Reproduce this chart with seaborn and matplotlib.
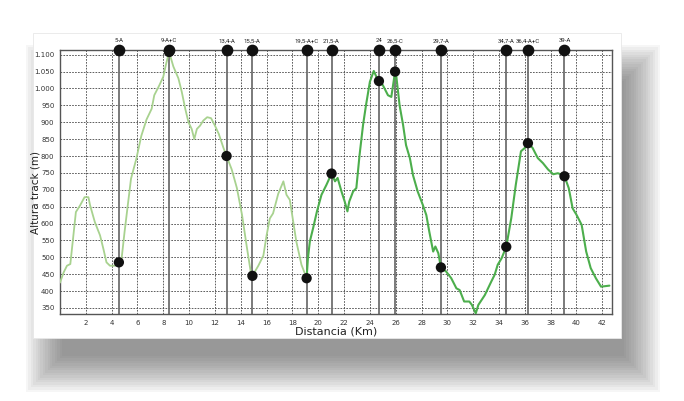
import matplotlib
matplotlib.use("Agg")
import matplotlib.pyplot as plt
import matplotlib.ticker as mticker
from matplotlib.patches import Rectangle
import pandas as pd
import seaborn as sns

# perfil de altura (km, m) - tramo claro y tramo oscuro
km_claro = [0.0, 0.28, 0.54, 0.8, 1.23, 1.56, 1.9, 2.2, 2.33, 2.7, 3.1, 3.36, 3.6, 3.87,
            4.26, 4.56, 4.77, 5.0, 5.3, 5.5, 5.9, 6.3, 6.7, 7.1, 7.3, 7.7, 8.0, 8.2, 8.45,
            8.78, 9.17, 9.43, 9.7, 9.95, 10.2, 10.4, 10.6, 10.85, 11.1, 11.4, 11.7, 12.0,
            12.3, 12.65, 12.9, 13.3, 13.7, 14.1, 14.45, 14.8, 14.9, 15.36, 15.75, 16.0,
            16.25, 16.5, 16.64, 16.9, 17.3, 17.54, 17.8, 18.06, 18.3, 18.7, 19.1]
alt_claro = [425, 455, 475, 480, 634, 654, 678, 678, 654, 604, 565, 525, 485, 475,
             475, 485, 496, 575, 670, 733, 790, 860, 908, 940, 980, 1010, 1035, 1070, 1108,
             1065, 1030, 990, 940, 900, 880, 850, 880, 890, 905, 915, 912, 890,
             865, 825, 800, 760, 705, 625, 535, 450, 445, 475, 505, 565,
             615, 630, 650, 688, 725, 685, 670, 606, 547, 478, 438]

km_oscuro = [19.1, 19.2, 19.35, 19.6, 19.9, 20.25, 20.64, 21.03, 21.3, 21.5, 21.8, 22.05,
             22.26, 22.4, 22.7, 22.95, 23.2, 23.47, 23.7, 24.0, 24.3, 24.5, 24.7, 25.0,
             25.4, 25.66, 25.95, 26.05, 26.3, 26.57, 26.8, 27.1, 27.34, 27.7, 28.1, 28.37,
             28.6, 28.9, 29.07, 29.3, 29.5, 29.9, 30.3, 30.7, 30.95, 31.3, 31.7, 31.9, 32.2,
             32.4, 32.9, 33.4, 33.66, 33.9, 34.2, 34.56, 34.95, 35.3, 35.7, 36.0, 36.24,
             36.6, 37.0, 37.4, 37.8, 38.2, 38.56, 38.9, 39.07, 39.4, 39.7, 40.0, 40.4,
             40.75, 41.1, 41.5, 41.9, 42.55]
alt_oscuro = [438, 497, 547, 586, 636, 685, 715, 748, 725, 735, 695, 665,
              636, 665, 695, 705, 803, 892, 951, 1020, 1052, 1035, 1022, 1010,
              980, 975, 1050, 1035, 950, 892, 832, 793, 743, 695, 655, 625,
              576, 517, 532, 512, 470, 458, 438, 408, 403, 369, 369, 359, 334,
              359, 388, 428, 448, 478, 497, 531, 616, 715, 814, 824, 838,
              824, 794, 779, 760, 746, 749, 744, 740, 705, 645, 626, 596,
              517, 468, 438, 413, 416]

# puntos de control
pc_nombres = ["5-A", "9-A+C", "13,4-A", "15,5-A", "19,5-A+C", "21,5-A", "24", "26,5-C",
              "29,7-A", "34,7-A", "36,4-A+C", "39-A"]
pc_km = [4.56, 8.45, 12.9, 14.9, 19.1, 21.03, 24.7, 25.95, 29.5, 34.56, 36.24, 39.07]
pc_alt = [485, 1108, 800, 445, 438, 748, 1022, 1050, 470, 531, 838, 740]

x_ticks = list(range(2, 43, 2))
y_ticks = list(range(350, 1101, 50))

VERDE_CLARO = "#a8d28f"
VERDE_OSCURO = "#4cae4c"
Y_MIN, Y_MAX = 332, 1114
W, H = 684, 401

sns.set_style("white")
plt.rcParams["font.family"] = ["DejaVu Sans"]

fig = plt.figure(figsize=(W / 100, H / 100), dpi=100)


def px_rect(xa, ya, xb, yb, **kw):
    # rectángulo en píxeles (origen arriba a la izquierda)
    return Rectangle((xa / W, 1 - yb / H), (xb - xa) / W, (yb - ya) / H,
                     transform=fig.transFigure, **kw)


# sombra difusa abajo y a la derecha
for k in range(16):
    d = k * 2.4
    fig.add_artist(px_rect(26 + d, 45 + d, 660 - d, 392 - d, color="#4a4a4a",
                           alpha=0.047, lw=0, zorder=0))
# tarjeta blanca
fig.add_artist(px_rect(33, 33, 621, 338, facecolor="white", edgecolor="#e8e8e8",
                       lw=0.6, zorder=1))

ax = fig.add_axes([60 / W, 1 - 314 / H, 552 / W, 264 / H])
ax.set_facecolor("none")
ax.set_zorder(2)

df_claro = pd.DataFrame({"km": km_claro, "alt": alt_claro})
df_oscuro = pd.DataFrame({"km": km_oscuro, "alt": alt_oscuro})
df_pc = pd.DataFrame({"km": pc_km, "alt": pc_alt, "nombre": pc_nombres})

for xv in pc_km:
    ax.axvline(xv, color="#707070", lw=1.3, zorder=2)

sns.lineplot(data=df_claro, x="km", y="alt", color=VERDE_CLARO, lw=1.3, ax=ax,
             sort=False, estimator=None, zorder=3)
sns.lineplot(data=df_oscuro, x="km", y="alt", color=VERDE_OSCURO, lw=1.5, ax=ax,
             sort=False, estimator=None, zorder=3)
sns.scatterplot(data=df_pc, x="km", y="alt", color="#111111", s=55, ax=ax,
                edgecolor="none", zorder=5, clip_on=False)
ax.scatter(pc_km, [Y_MAX] * len(pc_km), color="#111111", s=55, zorder=6, clip_on=False)

for xv, nombre in zip(pc_km, pc_nombres):
    ax.text(xv, Y_MAX + 20, nombre, ha="center", va="bottom", fontsize=4.3,
            color="#222222", family="Roboto")

ax.set_xlim(0, 42.75)
ax.set_ylim(Y_MIN, Y_MAX)
ax.set_xticks(x_ticks)
ax.set_yticks(y_ticks)
ax.yaxis.set_major_formatter(mticker.FuncFormatter(lambda v, _: f"{int(v):,}".replace(",", ".")))
ax.grid(True, color="#444444", lw=0.6, linestyle=(0, (2, 1.5)))
ax.set_axisbelow(True)
ax.tick_params(axis="both", length=0, labelsize=5, colors="#333333", pad=4)
for s in ax.spines.values():
    s.set_color("#555555")
    s.set_linewidth(1.0)

ax.set_xlabel("Distancia (Km)", fontsize=8, color="#222222", labelpad=1)
ax.set_ylabel("Altura track (m)", fontsize=7.5, color="#222222")
ax.yaxis.set_label_coords(-0.036, 0.46)

fig.savefig("out.png", dpi=100)
